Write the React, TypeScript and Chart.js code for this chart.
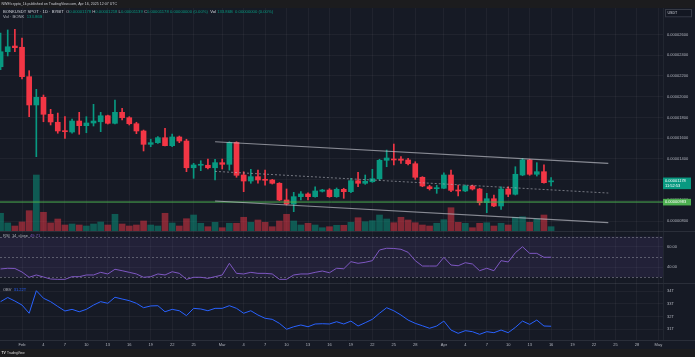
import { useEffect, useRef } from "react";
import { Chart, registerables } from "chart.js";

Chart.register(...registerables);

// BONK/USDT daily candles, prices in millionths of a USDT (value × 1e-6)
const FIRST_CANDLE = "2025-01-29";
const OPEN = [
  22.89, 24.34, 24.89, 24.77, 21.93, 19.2, 19.94, 18.3, 17.53, 16.72,
  16.59, 17.65, 17.2, 17.46, 17.58, 18.16, 17.43, 18.49, 17.97, 17.39,
  16.69, 15.4, 15.56, 16.04, 15.27, 16.11, 15.72, 13.14, 13.38, 13.38,
  13.14, 13.63, 13.47, 15.58, 12.44, 11.86, 12.28, 11.96, 11.96, 11.64,
  10.03, 9.64, 10.35, 10.61, 10.35, 10.87, 10.99, 10.35, 11.06, 10.83,
  11.89, 11.64, 11.79, 12.08, 13.86, 13.98, 13.98, 13.89, 13.53, 12.22,
  11.31, 11.12, 11.16, 12.44, 10.99, 10.9, 11.38, 11.09, 9.77, 10.15,
  9.45, 11.09, 10.58, 12.44, 13.89, 12.51, 12.76, 11.78,
];
const HIGH = [
  26.15, 26.44, 26.5, 25.66, 22.51, 20.71, 20.16, 18.78, 18.42, 18.07,
  17.85, 18.49, 18.07, 19.26, 18.49, 18.22, 19.68, 18.88, 18.07, 17.53,
  16.78, 15.89, 16.14, 16.95, 16.4, 16.2, 15.89, 13.57, 13.82, 13.98,
  13.96, 13.98, 15.65, 15.65, 12.76, 12.99, 12.92, 12.92, 12.02, 11.7,
  11.09, 10.77, 10.83, 10.73, 11.31, 11.06, 11.12, 11.19, 11.16, 12.12,
  12.7, 12.44, 12.99, 13.96, 14.85, 15.43, 14.21, 14.05, 13.72, 12.28,
  11.45, 11.45, 12.66, 12.92, 11.47, 11.47, 11.47, 11.16, 10.67, 10.51,
  11.31, 11.31, 13.24, 14.05, 13.96, 13.63, 13.41, 12.18,
];
const LOW = [
  22.6, 23.93, 24.34, 21.71, 18.07, 14.21, 17.58, 17.27, 16.47, 15.98,
  16.47, 16.37, 16.52, 17.17, 16.62, 17.36, 17.36, 17.75, 17.27, 16.43,
  14.76, 15.17, 15.5, 15.24, 15.17, 15.56, 12.76, 12.12, 12.86, 13.02,
  11.96, 13.02, 12.91, 12.22, 10.83, 11.64, 11.64, 11.47, 11.57, 9.96,
  9.54, 8.9, 10.03, 10.03, 10.29, 10.8, 10.29, 10.29, 10.19, 10.73,
  11.31, 11.54, 11.73, 11.96, 13.24, 13.41, 13.57, 13.41, 12.02, 11.31,
  10.99, 10.67, 11.12, 10.83, 10.41, 10.83, 10.99, 9.54, 8.8, 9.38,
  9.13, 10.35, 10.51, 12.37, 12.41, 12.34, 11.64, 11.39,
];
const CLOSE = [
  24.34, 24.82, 24.73, 21.93, 19.2, 19.94, 18.3, 17.56, 16.69, 16.62,
  17.65, 17.2, 17.46, 17.65, 18.16, 17.43, 18.49, 17.97, 17.39, 16.69,
  15.4, 15.56, 16.04, 15.27, 16.11, 15.72, 13.14, 13.41, 13.41, 13.14,
  13.63, 13.47, 15.58, 12.41, 11.86, 12.28, 11.96, 11.93, 11.64, 10.03,
  9.64, 10.35, 10.61, 10.35, 10.9, 10.99, 10.35, 11.06, 10.83, 11.89,
  11.64, 11.83, 12.08, 13.86, 14.08, 13.89, 13.86, 13.53, 12.22, 11.38,
  11.12, 11.19, 12.44, 10.96, 10.9, 11.38, 11.09, 9.77, 10.15, 9.45,
  11.09, 10.58, 12.51, 13.89, 12.51, 12.76, 11.7, 11.78,
];
// daily volume, billions of BONK
const VOLUME = [
  549, 250, 155, 280, 630, 1736, 580, 250, 372, 186,
  217, 186, 155, 217, 279, 186, 518, 217, 155, 186,
  310, 186, 155, 549, 248, 155, 381, 496, 239, 133,
  270, 102, 239, 239, 425, 270, 341, 270, 133, 310,
  518, 310, 186, 239, 186, 102, 133, 177, 177, 270,
  412, 288, 319, 496, 372, 257, 425, 341, 257, 186,
  155, 239, 350, 722, 270, 239, 102, 239, 257, 155,
  239, 186, 425, 443, 270, 372, 496, 133.86,
];
// RSI(14) on close
const RSI = [
  38.1, 38.8, 38.6, 35.1, 29.9, 32.2, 30.2, 28.2, 27.9, 27.9,
  30.5, 30.5, 32.2, 32.2, 34.8, 33.2, 37.8, 36.4, 34.8, 33.2,
  29.9, 30.5, 33.2, 32.2, 35.4, 33.8, 27.9, 29.9, 29.9, 28.9,
  30.5, 32.2, 43.7, 33.8, 33.2, 34.8, 33.8, 33.8, 33.2, 27.9,
  27.9, 32.2, 33.2, 33.2, 34.8, 36.1, 34.4, 38.8, 38.3, 45.3,
  43.7, 44.7, 46.3, 56.8, 58.5, 58.3, 57.5, 54.5, 46.3, 41.0,
  41.0, 41.0, 49.6, 42.0, 41.3, 44.3, 43.0, 36.4, 38.8, 36.4,
  46.3, 45.0, 54.1, 60.0, 53.5, 53.5, 49.6, 49.71,
];
// on-balance volume, trillions
const OBV = [
  33.17, 33.5, 33.22, 32.9, 32.25, 34.04, 33.44, 33.17, 32.79, 32.43,
  32.56, 32.37, 32.56, 32.9, 33.17, 33.04, 33.52, 33.38, 33.25, 33.04,
  32.69, 32.83, 32.85, 32.37, 32.56, 32.45, 32.06, 32.64, 32.59, 32.45,
  32.64, 32.64, 32.85, 32.64, 32.25, 32.45, 32.11, 31.85, 31.77, 31.45,
  30.98, 31.18, 31.32, 31.18, 31.4, 31.42, 31.4, 31.58, 31.4, 31.63,
  31.24, 31.5, 31.77, 32.25, 32.69, 32.45, 32.11, 31.71, 31.45, 31.26,
  31.06, 31.24, 31.63, 30.92, 30.66, 30.87, 30.79, 30.58, 30.79, 30.71,
  30.92, 30.71, 31.13, 31.63, 31.37, 31.71, 31.24, 31.22,
];

const PRICE_TICKS = [8, 10, 12, 14, 16, 18, 20, 22, 24, 26];
const RSI_TICKS = [60, 40];
const RSI_LEVELS = [70, 50, 30];
const OBV_TICKS = [34, 33, 32, 31];
const AXIS_DATES = [
  "2025-02-01", "2025-02-04", "2025-02-07", "2025-02-10", "2025-02-13", "2025-02-16", "2025-02-19", "2025-02-22", "2025-02-25",
  "2025-03-01", "2025-03-04", "2025-03-07", "2025-03-10", "2025-03-13", "2025-03-16", "2025-03-19", "2025-03-22", "2025-03-25", "2025-03-28",
  "2025-04-01", "2025-04-04", "2025-04-07", "2025-04-10", "2025-04-13", "2025-04-16", "2025-04-19", "2025-04-22", "2025-04-25", "2025-04-28",
  "2025-05-01",
];
const AXIS_LABELS = [
  "Feb", "4", "7", "10", "13", "16", "19", "22", "25",
  "Mar", "4", "7", "10", "13", "16", "19", "22", "25", "28",
  "Apr", "4", "7", "10", "13", "16", "19", "22", "25", "28",
  "May",
];

// drawn levels
const SUPPORT = 9.83;
const CHANNEL_FROM = "2025-02-28";
const CHANNEL_TO = "2025-04-24";
const CHANNEL_UPPER = [15.65, 13.57];
const CHANNEL_MID = [12.79, 10.7];
const CHANNEL_LOWER = [9.93, 7.84];
const BAR_COUNTDOWN = "11:52:53";

// page geometry
const W = 695;
const H = 357;
const AXIS_W = 32;
const TITLE_H = 8;
const MAIN_TOP = 8;
const MAIN_H = 223;
const RSI_TOP = 231;
const RSI_H = 52;
const OBV_TOP = 283;
const OBV_H = 66;
const DATE_ROW = 9;

const VIEW_FROM = -3.08;
const VIEW_TO = 89.65;
const PRICE_VIEW = [7.035, 28.56];
const VOLUME_VIEW = [0, 6913];
const RSI_VIEW = [24.29, 75.52];
const OBV_VIEW = [30.13, 34.65];

const BG = "#161a25";
const BAR_BG = "#1c1c1e";
const GRID = "rgba(255,255,255,0.045)";
const SEP = "#2a2e39";
const TEXT = "#b2b5be";
const UP = "#089981";
const DOWN = "#f23645";
const UP_VOL = "rgba(8,153,129,0.5)";
const DOWN_VOL = "rgba(242,54,69,0.5)";
const CHANNEL = "rgba(190,192,200,0.68)";
const SUPPORT_COLOR = "#4caf50";
const RSI_COLOR = "#7e57c2";
const OBV_COLOR = "#2962ff";
const FONT = '"Liberation Sans", Arial, sans-serif';

const DAY = 86400000;
const ORIGIN = Date.parse("2025-02-01T00:00:00Z");
const dayOf = (iso: string) => Math.round((Date.parse(iso + "T00:00:00Z") - ORIGIN) / DAY);

const firstDay = dayOf(FIRST_CANDLE);
const candleX = OPEN.map((_, i) => firstDay + i);
const rising = OPEN.map((o, i) => CLOSE[i] >= o);
const last = OPEN.length - 1;
const fmtPrice = (v: number) => (v * 1e-6).toFixed(8);

function font(size: number, bold = false) {
  return `${bold ? "bold " : ""}${size}px ${FONT}`;
}

function writeParts(ctx: CanvasRenderingContext2D, x: number, y: number, parts: [string, string][]) {
  for (const [t, c] of parts) {
    ctx.fillStyle = c;
    ctx.fillText(t, x, y);
    x += ctx.measureText(t).width;
  }
}

function timeAxis(): any {
  return {
    type: "linear",
    min: VIEW_FROM,
    max: VIEW_TO,
    bounds: "data",
    offset: false,
    afterBuildTicks: (s: any) => {
      s.ticks = AXIS_DATES.map((d) => ({ value: dayOf(d) }));
    },
    afterFit: (s: any) => {
      s.height = 0;
    },
    grid: { color: GRID, offset: false, drawTicks: false },
    border: { display: false },
    ticks: { display: false },
  };
}

function valueAxis(view: number[], ticks: number[]): any {
  return {
    type: "linear",
    position: "right",
    min: view[0],
    max: view[1],
    bounds: "data",
    afterBuildTicks: (s: any) => {
      s.ticks = ticks.map((v) => ({ value: v }));
    },
    afterFit: (s: any) => {
      s.width = AXIS_W;
    },
    grid: { color: GRID, drawTicks: false },
    border: { display: false },
    ticks: { display: false },
  };
}

const baseOptions: any = {
  responsive: false,
  maintainAspectRatio: false,
  animation: false,
  devicePixelRatio: 1,
  events: [],
  layout: { padding: 0 },
  plugins: { legend: { display: false }, tooltip: { enabled: false } },
};

function segment(from: string, to: string, ends: number[]) {
  return [
    { x: dayOf(from), y: ends[0] },
    { x: dayOf(to), y: ends[1] },
  ];
}

function mainConfig(): any {
  const overlay = (data: any[], extra: any) => ({
    type: "line",
    data,
    yAxisID: "y",
    pointRadius: 0,
    borderColor: CHANNEL,
    borderWidth: 1.2,
    order: 0,
    ...extra,
  });
  return {
    type: "bar",
    data: {
      datasets: [
        overlay(segment(CHANNEL_FROM, CHANNEL_TO, CHANNEL_UPPER), {}),
        overlay(segment(CHANNEL_FROM, CHANNEL_TO, CHANNEL_MID), { borderWidth: 1, borderDash: [2, 2], borderColor: "rgba(180,182,190,0.6)" }),
        overlay(segment(CHANNEL_FROM, CHANNEL_TO, CHANNEL_LOWER), {}),
        overlay(
          [
            { x: VIEW_FROM, y: SUPPORT },
            { x: VIEW_TO, y: SUPPORT },
          ],
          { borderColor: SUPPORT_COLOR, borderWidth: 1, order: 1 }
        ),
        {
          type: "bar",
          yAxisID: "y",
          data: candleX.map((x, i) => ({ x, y: [OPEN[i], CLOSE[i]] })),
          backgroundColor: rising.map((r) => (r ? UP : DOWN)),
          barThickness: 5,
          minBarLength: 1,
          grouped: false,
          order: 2,
        },
        {
          type: "bar",
          yAxisID: "y",
          data: candleX.map((x, i) => ({ x, y: [LOW[i], HIGH[i]] })),
          backgroundColor: rising.map((r) => (r ? UP : DOWN)),
          barThickness: 1,
          grouped: false,
          order: 3,
        },
        {
          type: "bar",
          yAxisID: "vol",
          data: candleX.map((x, i) => ({ x, y: VOLUME[i] })),
          backgroundColor: rising.map((r) => (r ? UP_VOL : DOWN_VOL)),
          barThickness: 6,
          grouped: false,
          order: 4,
        },
      ],
    },
    options: {
      ...baseOptions,
      scales: {
        x: timeAxis(),
        y: valueAxis(PRICE_VIEW, PRICE_TICKS),
        vol: { type: "linear", display: false, min: VOLUME_VIEW[0], max: VOLUME_VIEW[1] },
      },
    },
    plugins: [
      {
        id: "priceDecor",
        afterDraw(chart: any) {
          const ctx = chart.ctx as CanvasRenderingContext2D;
          const area = chart.chartArea;
          const ys = chart.scales.y;
          ctx.save();
          ctx.textBaseline = "middle";
          ctx.textAlign = "left";
          ctx.font = font(4);
          ctx.fillStyle = TEXT;
          for (const v of PRICE_TICKS) ctx.fillText(fmtPrice(v), area.right + 4, ys.getPixelForValue(v));

          // support level tag
          const sy = ys.getPixelForValue(SUPPORT);
          ctx.fillStyle = SUPPORT_COLOR;
          ctx.fillRect(area.right, sy - 3.2, 28, 6.6);
          ctx.fillStyle = "#ffffff";
          ctx.fillText(fmtPrice(SUPPORT), area.right + 2, sy + 0.2);

          // last price tag with bar countdown
          const py = ys.getPixelForValue(CLOSE[last]);
          ctx.fillStyle = UP;
          ctx.fillRect(area.right, py - 4.3, 28, 11.6);
          ctx.fillStyle = "#ffffff";
          ctx.fillText(fmtPrice(CLOSE[last]), area.right + 2, py - 0.8);
          ctx.fillText(BAR_COUNTDOWN, area.right + 2, py + 4);

          // quote currency box
          ctx.fillStyle = "#131722";
          ctx.fillRect(area.right + 2, 1, 27, 8.3);
          ctx.strokeStyle = "#363a45";
          ctx.lineWidth = 1;
          ctx.strokeRect(area.right + 2.5, 1.5, 26, 7.3);
          ctx.fillStyle = "#d1d4dc";
          ctx.font = font(3.6);
          ctx.fillText("USDT", area.right + 4.5, 5.2);

          // legend rows
          ctx.font = font(4.2);
          const g = "#b2b5be";
          const val = rising[last] ? UP : DOWN;
          const vol = `${VOLUME[last].toFixed(2)}B`;
          writeParts(ctx, 3, 4.2, [
            ["BONKUSDT SPOT · 1D · BYBIT", "#d1d4dc"],
            ["  O", g],
            [fmtPrice(OPEN[last]), val],
            [" H", g],
            [fmtPrice(HIGH[last]), val],
            [" L", g],
            [fmtPrice(LOW[last]), val],
            [" C", g],
            [fmtPrice(CLOSE[last]), val],
            [" 0.00000000 (0.00%)", val],
            ["  Vol ", "#d1d4dc"],
            [vol, val],
            ["  0.00000000 (0.00%)", val],
          ]);
          writeParts(ctx, 3, 9.2, [
            ["Vol · BONK  ", g],
            [vol, val],
          ]);
          ctx.restore();
        },
      },
    ],
  };
}

function rsiConfig(): any {
  return {
    type: "line",
    data: {
      datasets: [
        {
          data: candleX.map((x, i) => ({ x, y: RSI[i] })),
          borderColor: RSI_COLOR,
          borderWidth: 1,
          pointRadius: 0,
          tension: 0,
        },
      ],
    },
    options: {
      ...baseOptions,
      scales: { x: timeAxis(), y: valueAxis(RSI_VIEW, RSI_TICKS) },
    },
    plugins: [
      {
        id: "rsiBand",
        beforeDatasetsDraw(chart: any) {
          const ctx = chart.ctx as CanvasRenderingContext2D;
          const area = chart.chartArea;
          const ys = chart.scales.y;
          const top = ys.getPixelForValue(RSI_LEVELS[0]);
          const bottom = ys.getPixelForValue(RSI_LEVELS[2]);
          ctx.save();
          ctx.fillStyle = "rgba(126,87,194,0.12)";
          ctx.fillRect(area.left, top, area.right - area.left, bottom - top);
          ctx.strokeStyle = "rgba(140,142,154,0.55)";
          ctx.lineWidth = 1;
          ctx.setLineDash([2, 2]);
          for (const lv of RSI_LEVELS) {
            const y = Math.round(ys.getPixelForValue(lv)) + 0.5;
            ctx.beginPath();
            ctx.moveTo(area.left, y);
            ctx.lineTo(area.right, y);
            ctx.stroke();
          }
          ctx.restore();
        },
        afterDraw(chart: any) {
          const ctx = chart.ctx as CanvasRenderingContext2D;
          const area = chart.chartArea;
          const ys = chart.scales.y;
          ctx.save();
          ctx.textBaseline = "middle";
          ctx.font = font(4);
          ctx.fillStyle = TEXT;
          for (const v of RSI_TICKS) ctx.fillText(v.toFixed(2), area.right + 4, ys.getPixelForValue(v));
          writeParts(ctx, 3, 5, [
            ["RSI  14  close  ", TEXT],
            [RSI[last].toFixed(2), RSI_COLOR],
          ]);
          ctx.restore();
        },
      },
    ],
  };
}

function obvConfig(): any {
  return {
    type: "line",
    data: {
      datasets: [
        {
          data: candleX.map((x, i) => ({ x, y: OBV[i] })),
          borderColor: OBV_COLOR,
          borderWidth: 1,
          pointRadius: 0,
          tension: 0,
        },
      ],
    },
    options: {
      ...baseOptions,
      layout: { padding: { bottom: DATE_ROW } },
      scales: { x: timeAxis(), y: valueAxis(OBV_VIEW, OBV_TICKS) },
    },
    plugins: [
      {
        id: "obvDecor",
        afterDraw(chart: any) {
          const ctx = chart.ctx as CanvasRenderingContext2D;
          const area = chart.chartArea;
          const ys = chart.scales.y;
          const xs = chart.scales.x;
          ctx.save();
          ctx.textBaseline = "middle";
          ctx.font = font(4);
          ctx.fillStyle = TEXT;
          for (const v of OBV_TICKS) ctx.fillText(`${v}T`, area.right + 4, ys.getPixelForValue(v));
          writeParts(ctx, 3, 7, [
            ["OBV  ", TEXT],
            [`${OBV[last].toFixed(2)}T`, OBV_COLOR],
          ]);
          // time axis
          ctx.strokeStyle = SEP;
          ctx.beginPath();
          ctx.moveTo(0, area.bottom + 0.5);
          ctx.lineTo(chart.width, area.bottom + 0.5);
          ctx.stroke();
          ctx.textAlign = "center";
          ctx.fillStyle = TEXT;
          AXIS_DATES.forEach((d, i) => {
            ctx.fillText(AXIS_LABELS[i], xs.getPixelForValue(dayOf(d)), area.bottom + 4.5);
          });
          ctx.restore();
        },
      },
    ],
  };
}

function drawFrame(canvas: HTMLCanvasElement) {
  const ctx = canvas.getContext("2d");
  if (!ctx) return;
  ctx.fillStyle = BG;
  ctx.fillRect(0, 0, W, H);
  ctx.fillStyle = BAR_BG;
  ctx.fillRect(0, 0, W, TITLE_H);
  ctx.fillRect(0, OBV_TOP + OBV_H, W, H - OBV_TOP - OBV_H);
  ctx.strokeStyle = SEP;
  ctx.lineWidth = 1;
  for (const y of [RSI_TOP, OBV_TOP]) {
    ctx.beginPath();
    ctx.moveTo(0, y + 0.5);
    ctx.lineTo(W, y + 0.5);
    ctx.stroke();
  }
  ctx.beginPath();
  ctx.moveTo(W - AXIS_W + 0.5, TITLE_H);
  ctx.lineTo(W - AXIS_W + 0.5, OBV_TOP + OBV_H - DATE_ROW);
  ctx.strokeStyle = "rgba(42,46,57,0.6)";
  ctx.stroke();
  ctx.textBaseline = "middle";
  ctx.fillStyle = "#c8cad0";
  ctx.font = font(3.6);
  ctx.fillText("NWE/crypto_1k published on TradingView.com, Apr 16, 2025 12:07 UTC", 1.5, 3.8);
  ctx.fillStyle = "#d8d8d8";
  ctx.font = font(3.4, true);
  ctx.fillText("TV", 1.5, 353.5);
  ctx.font = font(3.2);
  ctx.fillText("TradingView", 7, 353.5);
}

export default function App() {
  const frameRef = useRef<HTMLCanvasElement>(null);
  const mainRef = useRef<HTMLCanvasElement>(null);
  const rsiRef = useRef<HTMLCanvasElement>(null);
  const obvRef = useRef<HTMLCanvasElement>(null);

  useEffect(() => {
    if (frameRef.current) drawFrame(frameRef.current);
    const charts = [
      new Chart(mainRef.current!, mainConfig()),
      new Chart(rsiRef.current!, rsiConfig()),
      new Chart(obvRef.current!, obvConfig()),
    ];
    return () => charts.forEach((c) => c.destroy());
  }, []);

  const layer = (top: number, height: number): any => ({
    position: "absolute",
    left: 0,
    top,
    width: W,
    height,
    display: "block",
  });

  return (
    <div style={{ position: "fixed", left: 0, top: 0, width: W, height: H, overflow: "hidden", background: BG }}>
      <canvas ref={frameRef} width={W} height={H} style={layer(0, H)} />
      <canvas ref={mainRef} width={W} height={MAIN_H} style={layer(MAIN_TOP, MAIN_H)} />
      <canvas ref={rsiRef} width={W} height={RSI_H} style={layer(RSI_TOP, RSI_H)} />
      <canvas ref={obvRef} width={W} height={OBV_H} style={layer(OBV_TOP, OBV_H)} />
    </div>
  );
}
